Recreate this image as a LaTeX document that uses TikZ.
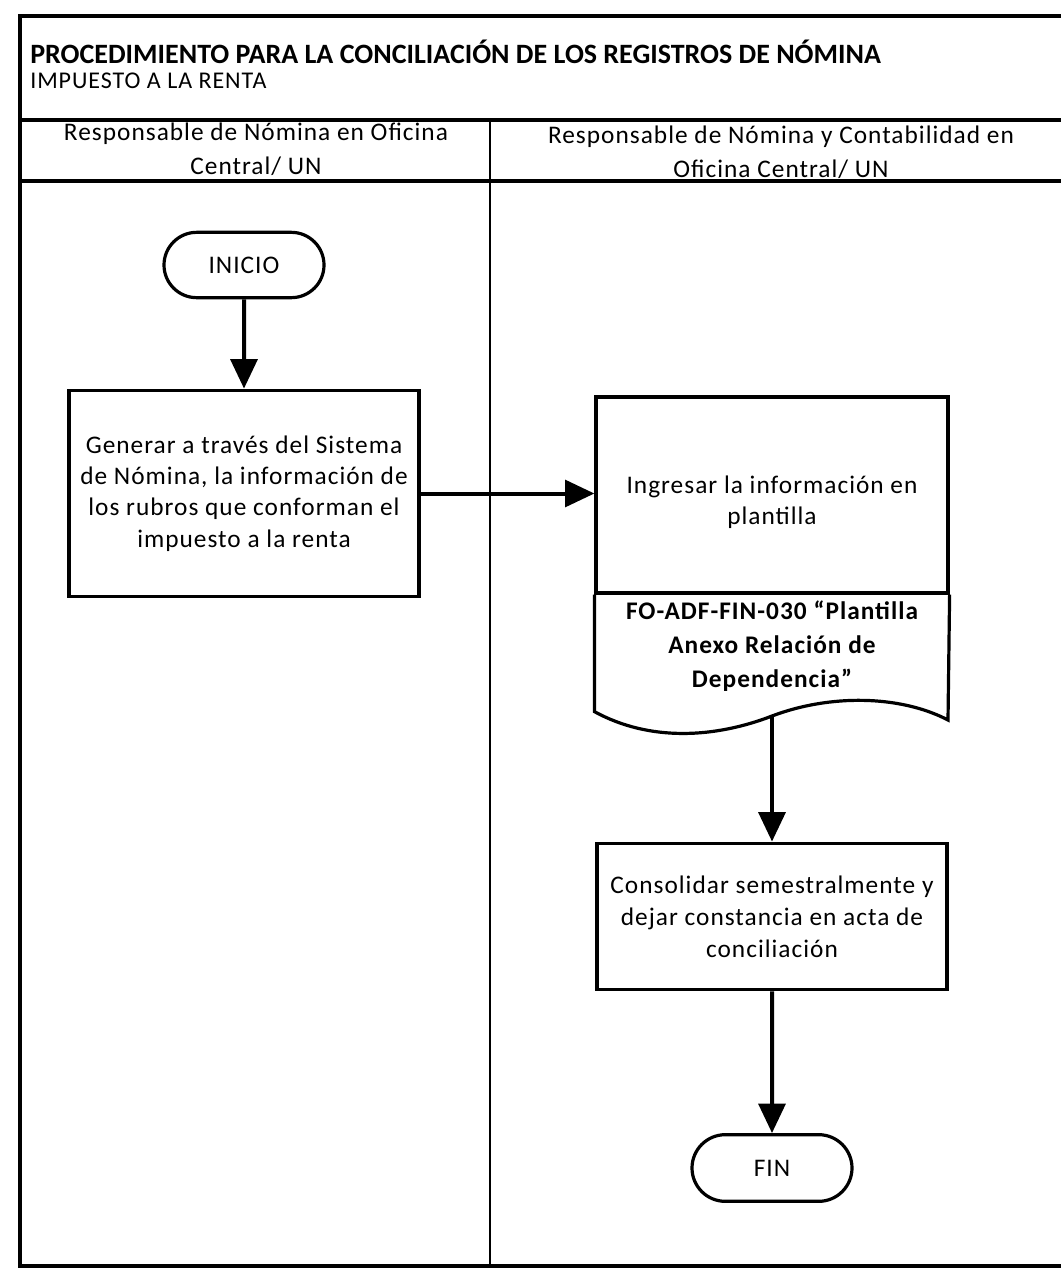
\documentclass[tikz,border=0pt]{standalone}
\usepackage{fontspec}
\setmainfont{Carlito}
\newfontfamily\spaced[LetterSpace=4]{Carlito}
\usetikzlibrary{arrows.meta,shapes.misc}
\begin{document}
\begin{tikzpicture}[x=0.75pt,y=-0.75pt,
  frame/.style={line width=2.4pt},
  lane/.style={line width=1.3pt},
  term/.style={draw, line width=2.4pt, rounded rectangle, minimum width=120pt, minimum height=49pt, inner sep=0pt, font=\spaced\fontsize{19}{24}\selectfont},
  proc/.style={draw, line width=2.4pt, align=center, inner sep=0pt, font=\spaced\fontsize{19}{23.6}\selectfont},
  txt/.style={align=center, inner sep=0pt, font=\spaced\fontsize{19}{23.6}\selectfont},
  flow/.style={line width=3pt, -{Triangle[length=22pt,width=20pt]}},
  hdr/.style={anchor=base, font=\spaced\fontsize{19}{24}\selectfont}
]
\useasboundingbox (0,0) rectangle (1060,1270);
\fill[white] (0,0) rectangle (1060,1270);
% frame
\draw[frame] (20,16) rectangle (1075,1266);
\draw[frame] (20,120) -- (1075,120);
\draw[frame] (20,181) -- (1075,181);
\draw[lane] (490,120) -- (490,1266);
% titles
\node[anchor=base west, inner sep=0pt, font=\bfseries\fontsize{21}{24}\selectfont] (title) at (30,64) {PROCEDIMIENTO PARA LA CONCILIACIÓN DE LOS REGISTROS DE NÓMINA};
\node[anchor=base west, inner sep=0pt, font=\spaced\fontsize{18}{21}\selectfont] (subtitle) at (30,89) {IMPUESTO A LA RENTA};
% lane headers
\node[hdr] (h1a) at (256,140) {Responsable de Nómina en Oficina};
\node[hdr] (h1b) at (256,174) {Central/ UN};
\node[hdr] (h2a) at (781,143) {Responsable de Nómina y Contabilidad en};
\node[hdr] (h2b) at (781,177) {Oficina Central/ UN};
% nodes
\node[term] (inicio) at (244,265) {INICIO};
\node[proc, minimum width=262.5pt, minimum height=155pt] (gen) at (244,493.5) {Generar a través del Sistema\\de Nómina, la información de\\los rubros que conforman el\\impuesto a la renta};
\node[proc, minimum width=264pt, minimum height=147pt] (doc) at (772,495) {};
\node[txt] (doctxt) at (772,502) {Ingresar la información en\\plantilla};
\node[align=center, inner sep=0pt, font=\spaced\bfseries\fontsize{19}{25.5}\selectfont] (ref) at (772,646) {FO-ADF-FIN-030 “Plantilla\\Anexo Relación de\\Dependencia”};
\draw[line width=2.4pt, line join=miter] (doc.south west) -- ++(0,117)
  .. controls (650,742) and (715,738) .. (772,716)
  .. controls (830,694) and (900,695) .. (948,720) -- (doc.south east);
\coordinate (docb) at (772,716);
\node[proc, minimum width=262.5pt, minimum height=110pt, font=\spaced\fontsize{19}{24}\selectfont] (cons) at (772,916.5) {Consolidar semestralmente y\\dejar constancia en acta de\\conciliación};
\node[term, minimum height=50pt] (fin) at (772,1168) {FIN};
% connectors
\draw[flow] (inicio) -- (gen);
\draw[flow] (gen.east) -- (gen.east -| doc.west);
\draw[flow] (docb) -- (cons);
\draw[flow] (cons) -- (fin);
\end{tikzpicture}
\end{document}
